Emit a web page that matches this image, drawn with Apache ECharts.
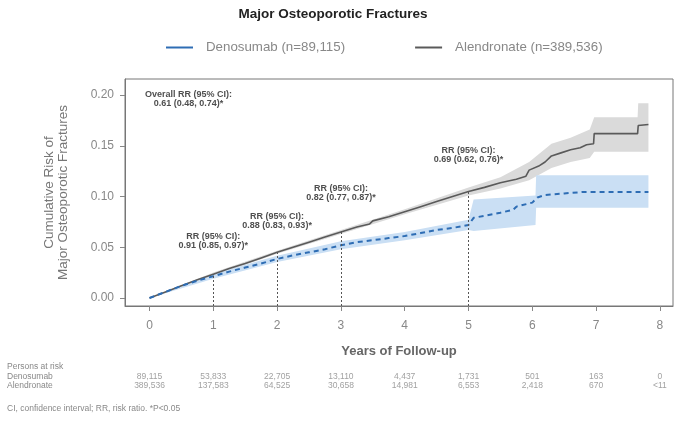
<!DOCTYPE html>
<html>
<head>
<meta charset="utf-8">
<script src="https://cdn.jsdelivr.net/npm/echarts@6/dist/echarts.min.js"></script>
<style>
  html, body { margin: 0; padding: 0; background: #fff; }
  #chart { width: 678px; height: 422px; }
</style>
</head>
<body>
<div id="chart"></div>
<script>
// cumulative risk curves [year, risk]
const alendronate = [[0,0],[0.25,0.006],[0.5,0.012],[0.75,0.018],[1,0.0235],[1.25,0.029],[1.5,0.034],[1.75,0.0395],
  [2,0.045],[2.25,0.05],[2.5,0.055],[2.75,0.06],[3,0.065],[3.25,0.07],[3.45,0.073],[3.5,0.076],[3.75,0.08],
  [4,0.085],[4.25,0.09],[4.5,0.095],[4.75,0.1],[5,0.105],[5.25,0.109],[5.5,0.1135],[5.75,0.117],[5.9,0.12],
  [5.95,0.126],[6.1,0.13],[6.2,0.134],[6.3,0.14],[6.45,0.143],[6.6,0.146],[6.75,0.148],[6.85,0.151],[6.96,0.152],
  [6.97,0.162],[7.65,0.162],[7.66,0.17],[7.82,0.171]];
const denosumab = [[0,0],[0.25,0.006],[0.5,0.012],[0.75,0.017],[1,0.0215],[1.25,0.026],[1.5,0.03],[1.75,0.034],
  [2,0.0385],[2.25,0.042],[2.5,0.045],[2.75,0.048],[3,0.052],[3.25,0.055],[3.5,0.057],[3.75,0.059],[4,0.061],
  [4.25,0.064],[4.5,0.067],[4.75,0.069],[5,0.072],[5.08,0.079],[5.25,0.081],[5.5,0.084],[5.7,0.087],[5.75,0.09],
  [6,0.094],[6.08,0.099],[6.2,0.1015],[6.5,0.103],[6.8,0.1045],[7.82,0.1045]];

// 95% CI bands [year, lower, upper]
const alendronateCI = [[0,0,0],[1,0.022,0.025],[2,0.0435,0.0465],[3,0.063,0.067],[4,0.0825,0.0875],[5,0.101,0.109],
  [5.5,0.108,0.119],[5.95,0.116,0.134],[6.3,0.128,0.152],[6.6,0.134,0.158],[6.9,0.138,0.166],[6.97,0.144,0.178],
  [7.65,0.144,0.178],[7.66,0.144,0.192],[7.82,0.144,0.192]];
const denosumabCI = [[0,0,0],[1,0.019,0.024],[2,0.0355,0.0415],[3,0.048,0.056],[4,0.057,0.065],[5,0.067,0.077],
  [5.08,0.066,0.097],[6.05,0.072,0.101],[6.06,0.089,0.121],[7.82,0.089,0.121]];

const xTicks = [0, 1, 2, 3, 4, 5, 6, 7, 8];
const yTicks = [0, 0.05, 0.10, 0.15, 0.20];

// risk ratio annotations
const rrYears = [1, 2, 3, 5];
const rrTexts = ['0.91 (0.85, 0.97)*', '0.88 (0.83, 0.93)*', '0.82 (0.77, 0.87)*', '0.69 (0.62, 0.76)*'];
const overallText = '0.61 (0.48, 0.74)*';

// persons at risk
const riskYears = [0, 1, 2, 3, 4, 5, 6, 7, 8];
const denosumabAtRisk = ['89,115', '53,833', '22,705', '13,110', '4,437', '1,731', '501', '163', '0'];
const alendronateAtRisk = ['389,536', '137,583', '64,525', '30,658', '14,981', '6,553', '2,418', '670', '<11'];

const FONT = '"Liberation Sans", Arial, sans-serif';
const chart = echarts.init(document.getElementById('chart'), null, { renderer: 'canvas' });

const xMin = -0.384, xMax = 8.205, yMin = -0.0079, yMax = 0.2158;

function valueAt(curve, t) {
  let v = 0;
  curve.forEach(p => { if (p[0] <= t) v = p[1]; });
  return v;
}

function bandSeries(ci, color) {
  return {
    type: 'custom',
    xAxisIndex: 0, yAxisIndex: 0,
    silent: true,
    data: ci,
    encode: { x: 0, y: [1, 2] },
    renderItem: function (params, api) {
      if (params.dataIndex !== 0) return;
      const pts = [];
      ci.forEach(d => pts.push(api.coord([d[0], d[2]])));
      for (let i = ci.length - 1; i >= 0; i--) pts.push(api.coord([ci[i][0], ci[i][1]]));
      return { type: 'polygon', shape: { points: pts }, style: { fill: color } };
    }
  };
}

const labelStyle = { fontFamily: FONT, fontSize: 9, fontWeight: 'bold', color: '#222', lineHeight: 9 };
const tableFont = '8.5px ' + FONT;

chart.setOption({
  animation: false,
  textStyle: { fontFamily: FONT },
  graphic: [
    { type: 'text', x: 333, y: 7, style: { text: 'Major Osteoporotic Fractures', font: 'bold 13.5px ' + FONT, fill: '#222', textAlign: 'center' } },
    { type: 'text', x: 7, y: 362, style: { text: 'Persons at risk', font: tableFont, fill: '#888' } },
    { type: 'text', x: 7, y: 372, style: { text: 'Denosumab', font: tableFont, fill: '#888' } },
    { type: 'text', x: 7, y: 381, style: { text: 'Alendronate', font: tableFont, fill: '#888' } },
    { type: 'text', x: 7, y: 404, style: { text: 'CI, confidence interval; RR, risk ratio. *P<0.05', font: tableFont, fill: '#888' } }
  ],
  legend: {
    left: 161, top: 36,
    selectedMode: false,
    icon: 'rect',
    itemWidth: 27, itemHeight: 2,
    itemGap: 70,
    textStyle: { fontFamily: FONT, fontSize: 13.3, color: '#888', padding: [0, 0, 0, 8] },
    data: ['Denosumab (n=89,115)', 'Alendronate (n=389,536)']
  },
  grid: [
    { left: 125, right: 5, top: 79, bottom: 116, show: true, borderColor: '#777', borderWidth: 1 },
    { left: 125, right: 5, top: 372, height: 18 }
  ],
  xAxis: [
    {
      type: 'value', gridIndex: 0, min: xMin, max: xMax,
      name: 'Years of Follow-up', nameLocation: 'middle', nameGap: 39,
      nameTextStyle: { fontFamily: FONT, fontSize: 13, fontWeight: 'bold', color: '#666' },
      axisLine: { show: true, onZero: false, lineStyle: { color: '#777' } },
      axisTick: { show: true, length: 5, lineStyle: { color: '#888' }, customValues: xTicks },
      axisLabel: { fontSize: 12, color: '#888', margin: 14, customValues: xTicks, formatter: v => String(v) },
      splitLine: { show: false }
    },
    { type: 'value', gridIndex: 1, min: xMin, max: xMax, show: false }
  ],
  yAxis: [
    {
      type: 'value', gridIndex: 0, min: yMin, max: yMax,
      name: 'Cumulative Risk of\nMajor Osteoporotic Fractures', nameLocation: 'middle', nameGap: 55,
      nameTextStyle: { fontFamily: FONT, fontSize: 13.5, color: '#777', lineHeight: 14 },
      axisLine: { show: true, onZero: false, lineStyle: { color: '#777' } },
      axisTick: { show: true, length: 5, lineStyle: { color: '#888' }, customValues: yTicks },
      axisLabel: { fontSize: 12, color: '#888', margin: 11, customValues: yTicks, formatter: v => v.toFixed(2) },
      splitLine: { show: false }
    },
    { type: 'category', gridIndex: 1, inverse: true, data: ['Denosumab', 'Alendronate'], show: false }
  ],
  series: [
    bandSeries(alendronateCI, '#dadada'),
    bandSeries(denosumabCI, '#cadff4'),
    {
      name: 'Alendronate (n=389,536)', type: 'line', data: alendronate,
      symbol: 'none', color: '#5a5a5a',
      lineStyle: { width: 1.6, color: '#5a5a5a' },
      markLine: {
        silent: true, symbol: 'none',
        label: { show: false },
        lineStyle: { type: [2, 2], color: '#555', width: 1 },
        data: rrYears.map(t => [{ coord: [t, yMin] }, { coord: [t, valueAt(alendronate, t)] }])
      },
      z: 3
    },
    {
      name: 'Denosumab (n=89,115)', type: 'line', data: denosumab,
      symbol: 'none', color: '#2e6db4',
      lineStyle: { width: 2, color: '#2e6db4', type: [5, 4] },
      z: 4
    },
    {
      type: 'scatter', silent: true, symbolSize: 0.1,
      itemStyle: { color: 'rgba(0,0,0,0)' },
      data: [[0.61, 0.196, 'Overall RR (95% CI):\n' + overallText]]
        .concat(rrYears.map((t, i) => [t, [0.0557, 0.076, 0.1035, 0.141][i], 'RR (95% CI):\n' + rrTexts[i]])),
      label: Object.assign({ show: true, position: 'inside', formatter: p => p.value[2] }, labelStyle),
      z: 5
    },
    {
      type: 'scatter', xAxisIndex: 1, yAxisIndex: 1, silent: true, symbolSize: 0.1,
      itemStyle: { color: 'rgba(0,0,0,0)' },
      data: riskYears.map(t => [t, 'Denosumab']),
      label: { show: true, position: 'inside', fontFamily: FONT, fontSize: 8.5, color: '#888', formatter: p => denosumabAtRisk[p.dataIndex] }
    },
    {
      type: 'scatter', xAxisIndex: 1, yAxisIndex: 1, silent: true, symbolSize: 0.1,
      itemStyle: { color: 'rgba(0,0,0,0)' },
      data: riskYears.map(t => [t, 'Alendronate']),
      label: { show: true, position: 'inside', fontFamily: FONT, fontSize: 8.5, color: '#888', formatter: p => alendronateAtRisk[p.dataIndex] }
    }
  ]
});
</script>
</body>
</html>
